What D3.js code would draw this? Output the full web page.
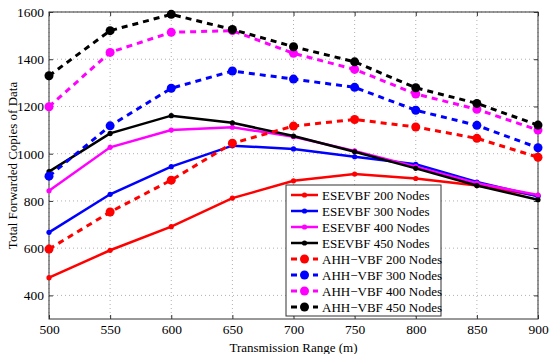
<!DOCTYPE html>
<html>
<head>
<meta charset="utf-8">
<script src="https://cdn.jsdelivr.net/npm/d3@7"></script>
<style>
  body { margin: 0; background: #fff; }
  svg text { font-family: "Liberation Serif", "Times New Roman", "DejaVu Serif", serif !important; }
</style>
</head>
<body>
<div id="chart"></div>
<script>
var svgWidth = 550;
var svgHeight = 354;

var margin = { top: 12, right: 12, bottom: 35, left: 49 };
var width = svgWidth - margin.left - margin.right;
var height = svgHeight - margin.top - margin.bottom;

// Data
var ranges = [500, 550, 600, 650, 700, 750, 800, 850, 900];
var yTicks = [400, 600, 800, 1000, 1200, 1400, 1600];

var esevbf200 = [475, 591, 691, 812, 885, 914, 895, 865, 822];
var esevbf300 = [667, 828, 945, 1034, 1020, 987, 955, 880, 820];
var esevbf400 = [843, 1027, 1100, 1112, 1072, 1012, 945, 875, 825];
var esevbf450 = [924, 1086, 1161, 1131, 1075, 1008, 938, 865, 805];
var ahh200 = [596, 753, 888, 1044, 1117, 1145, 1113, 1065, 985];
var ahh300 = [905, 1118, 1277, 1350, 1316, 1281, 1184, 1120, 1025];
var ahh400 = [1199, 1429, 1514, 1521, 1425, 1357, 1253, 1188, 1100];
var ahh450 = [1330, 1521, 1590, 1526, 1453, 1389, 1279, 1213, 1121];

var series = [
  { name: "ESEVBF 200 Nodes", values: esevbf200, color: "#ff0000", dashed: false },
  { name: "ESEVBF 300 Nodes", values: esevbf300, color: "#0000ff", dashed: false },
  { name: "ESEVBF 400 Nodes", values: esevbf400, color: "#ff00ff", dashed: false },
  { name: "ESEVBF 450 Nodes", values: esevbf450, color: "#000000", dashed: false },
  { name: "AHH\u2212VBF 200 Nodes", values: ahh200, color: "#ff0000", dashed: true },
  { name: "AHH\u2212VBF 300 Nodes", values: ahh300, color: "#0000ff", dashed: true },
  { name: "AHH\u2212VBF 400 Nodes", values: ahh400, color: "#ff00ff", dashed: true },
  { name: "AHH\u2212VBF 450 Nodes", values: ahh450, color: "#000000", dashed: true }
];

var svg = d3.select("#chart")
  .append("svg")
  .attr("width", svgWidth)
  .attr("height", svgHeight)
  .attr("font-family", "Liberation Serif");

var chartGroup = svg.append("g")
  .attr("transform", `translate(${margin.left}, ${margin.top})`);

var x = d3.scaleLinear().domain([500, 900]).range([0, width]);
var y = d3.scaleLinear().domain([300, 1600]).range([height, 0]);

// grid
chartGroup.append("g")
  .selectAll("line")
  .data(ranges)
  .enter()
  .append("line")
  .attr("x1", d => x(d)).attr("x2", d => x(d))
  .attr("y1", 0).attr("y2", height)
  .attr("stroke", "#b0b0b0")
  .attr("stroke-width", 1)
  .attr("stroke-dasharray", "1,3");

chartGroup.append("g")
  .selectAll("line")
  .data(yTicks)
  .enter()
  .append("line")
  .attr("x1", 0).attr("x2", width)
  .attr("y1", d => y(d)).attr("y2", d => y(d))
  .attr("stroke", "#b0b0b0")
  .attr("stroke-width", 1)
  .attr("stroke-dasharray", "1,3");

// axes (ticks inside, matlab style)
var fmt = d3.format("d");
var bottomAxis = d3.axisBottom(x).tickValues(ranges).tickFormat(fmt).tickSize(-4).tickPadding(5);
var leftAxis = d3.axisLeft(y).tickValues(yTicks).tickFormat(fmt).tickSize(-4).tickPadding(5);
var topAxis = d3.axisTop(x).tickValues(ranges).tickSize(-4).tickFormat("");
var rightAxis = d3.axisRight(y).tickValues(yTicks).tickSize(-4).tickFormat("");

function styleAxis(g) {
  g.attr("font-family", null).attr("font-size", null);
  g.select(".domain").remove();
  g.selectAll(".tick line").attr("stroke", "#333");
  g.selectAll("text")
    .attr("fill", "#000")
    .style("font-size", "13.5px");
}

chartGroup.append("g").attr("transform", `translate(0, ${height})`).call(bottomAxis).call(styleAxis);
chartGroup.append("g").call(leftAxis).call(styleAxis);
chartGroup.append("g").call(topAxis).call(styleAxis);
chartGroup.append("g").attr("transform", `translate(${width}, 0)`).call(rightAxis).call(styleAxis);

chartGroup.append("rect")
  .attr("width", width)
  .attr("height", height)
  .attr("fill", "none")
  .attr("stroke", "#333")
  .attr("stroke-width", 1);

// lines
var line = d3.line()
  .x((d, i) => x(ranges[i]))
  .y(d => y(d));

series.forEach(function(s) {
  chartGroup.append("path")
    .datum(s.values)
    .attr("fill", "none")
    .attr("stroke", s.color)
    .attr("stroke-width", s.dashed ? 3 : 2.5)
    .attr("stroke-dasharray", s.dashed ? "6,5" : null)
    .attr("d", line);

  chartGroup.append("g")
    .selectAll("circle")
    .data(s.values)
    .enter()
    .append("circle")
    .attr("cx", (d, i) => x(ranges[i]))
    .attr("cy", d => y(d))
    .attr("r", s.dashed ? 4.5 : 2.6)
    .attr("fill", s.color);
});

// legend
var legend = chartGroup.append("g")
  .attr("transform", `translate(${286 - margin.left}, ${185 - margin.top})`);

legend.append("rect")
  .attr("width", 155)
  .attr("height", 131)
  .attr("fill", "#fff")
  .attr("stroke", "#333")
  .attr("stroke-width", 1);

var items = legend.selectAll(".item")
  .data(series)
  .enter()
  .append("g")
  .attr("transform", (d, i) => `translate(0, ${10 + i * 16})`);

items.append("line")
  .attr("x1", 5).attr("x2", 32)
  .attr("y1", 0).attr("y2", 0)
  .attr("stroke", d => d.color)
  .attr("stroke-width", d => d.dashed ? 3 : 2.5)
  .attr("stroke-dasharray", d => d.dashed ? "6,5" : null);

items.append("circle")
  .attr("cx", 18.5).attr("cy", 0)
  .attr("r", d => d.dashed ? 4.5 : 2.6)
  .attr("fill", d => d.color);

items.append("text")
  .attr("x", 36)
  .attr("y", 4.5)
  .style("font-size", "13px")
  .text(d => d.name);

// axis labels
chartGroup.append("text")
  .attr("transform", "rotate(-90)")
  .attr("x", -height / 2)
  .attr("y", -margin.left + 17)
  .attr("text-anchor", "middle")
  .style("font-size", "13px")
  .text("Total Forwarded Copies of Data");

chartGroup.append("text")
  .attr("x", width / 2)
  .attr("y", height + 33)
  .attr("text-anchor", "middle")
  .style("font-size", "13px")
  .text("Transmission Range (m)");
</script>
</body>
</html>
